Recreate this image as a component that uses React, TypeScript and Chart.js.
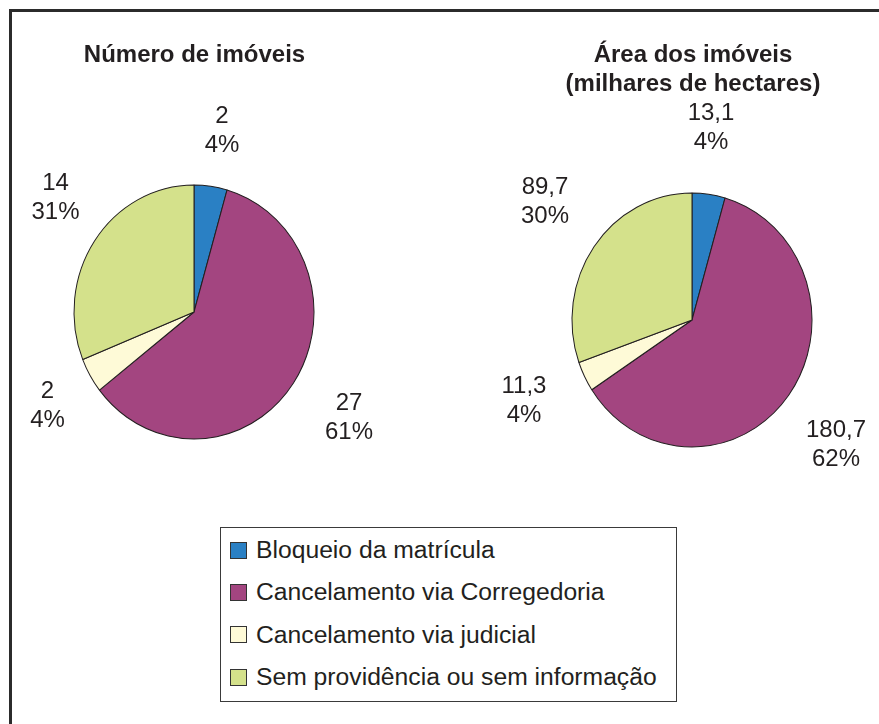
import React, { useEffect, useRef } from "react";
import { Chart, registerables } from "chart.js";

Chart.register(...registerables);

const categories = [
  "Bloqueio da matrícula",
  "Cancelamento via Corregedoria",
  "Cancelamento via judicial",
  "Sem providência ou sem informação",
];
const colors = ["#2a80c4", "#a34580", "#fefad7", "#d4e18b"];

const leftTitle = ["Número de imóveis"];
const leftValues = [2, 27, 2, 14];
const leftValueLabels = ["2", "27", "2", "14"];
const leftPctLabels = ["4%", "61%", "4%", "31%"];

const rightTitle = ["Área dos imóveis", "(milhares de hectares)"];
const rightValues = [13.1, 180.7, 11.3, 89.7];
const rightValueLabels = ["13,1", "180,7", "11,3", "89,7"];
const rightPctLabels = ["4%", "62%", "4%", "30%"];

// layout (label block centres relative to pie centre)
const leftLabelOffsets = [
  [28, -181],
  [155, 106],
  [-146.5, 94],
  [-138.5, -114],
];
const rightLabelOffsets = [
  [19, -192],
  [144, 125],
  [-168, 81],
  [-147, -118],
];

const FONT = '"Liberation Sans", Arial, Helvetica, sans-serif';
const SY = 127 / 120;

function makePlugins(
  title: string[],
  titleX: number,
  valueLabels: string[],
  pctLabels: string[],
  offsets: number[][]
) {
  return [
    {
      id: "ellipse",
      beforeDatasetsDraw(chart: any) {
        const arc = chart.getDatasetMeta(0).data[0];
        const ctx = chart.ctx;
        ctx.save();
        ctx.translate(arc.x, arc.y);
        ctx.scale(1, SY);
        ctx.translate(-arc.x, -arc.y);
      },
      afterDatasetsDraw(chart: any) {
        chart.ctx.restore();
      },
    },
    {
      id: "texts",
      afterDraw(chart: any) {
        const ctx = chart.ctx;
        const arc = chart.getDatasetMeta(0).data[0];
        ctx.save();
        ctx.fillStyle = "#231f20";
        ctx.textAlign = "center";
        ctx.textBaseline = "alphabetic";
        ctx.font = `bold 24px ${FONT}`;
        title.forEach((t, i) => ctx.fillText(t, titleX, 62 + i * 29));
        ctx.font = `24px ${FONT}`;
        ctx.textBaseline = "middle";
        valueLabels.forEach((v, i) => {
          const x = arc.x + offsets[i][0];
          const y = arc.y + offsets[i][1];
          ctx.fillText(v, x, y - 14.5);
          ctx.fillText(pctLabels[i], x, y + 14.5);
        });
        ctx.restore();
      },
    },
  ];
}

function PieCanvas(props: {
  width: number;
  height: number;
  left: number;
  values: number[];
  padding: { left: number; right: number; top: number; bottom: number };
  plugins: any[];
}) {
  const ref = useRef<HTMLCanvasElement | null>(null);
  useEffect(() => {
    if (!ref.current) return;
    const chart = new Chart(ref.current, {
      type: "pie",
      data: {
        labels: categories,
        datasets: [
          {
            data: props.values,
            backgroundColor: colors,
            borderColor: "#231f20",
            borderWidth: 1,
            radius: 120,
          } as any,
        ],
      },
      options: {
        responsive: false,
        maintainAspectRatio: false,
        animation: false,
        layout: { padding: props.padding },
        plugins: {
          legend: { display: false },
          tooltip: { enabled: false },
          title: { display: false },
        },
      },
      plugins: props.plugins,
    });
    return () => chart.destroy();
  }, []);
  return (
    <canvas
      ref={ref}
      width={props.width}
      height={props.height}
      style={{ position: "absolute", left: props.left, top: 0, width: props.width, height: props.height }}
    />
  );
}

export default function App() {
  const legendTop = 527;
  return (
    <div
      style={{
        position: "absolute",
        left: 0,
        top: 0,
        width: 879,
        height: 724,
        overflow: "hidden",
        background: "#ffffff",
        fontFamily: FONT,
      }}
    >
      <div
        style={{
          position: "absolute",
          left: 9,
          top: 9,
          width: 1000,
          height: 1000,
          borderLeft: "3px solid #2b2b2b",
          borderTop: "3px solid #2b2b2b",
        }}
      />
      <PieCanvas
        width={440}
        height={520}
        left={0}
        values={leftValues}
        padding={{ left: 64, right: 116, top: 182, bottom: 78 }}
        plugins={makePlugins(leftTitle, 194.5, leftValueLabels, leftPctLabels, leftLabelOffsets)}
      />
      <PieCanvas
        width={439}
        height={520}
        left={440}
        values={rightValues}
        padding={{ left: 122, right: 57, top: 190, bottom: 70 }}
        plugins={makePlugins(rightTitle, 253, rightValueLabels, rightPctLabels, rightLabelOffsets)}
      />
      <div
        style={{
          position: "absolute",
          left: 220,
          top: legendTop,
          width: 455,
          height: 173,
          border: "1px solid #3a3a3a",
          background: "#fff",
        }}
      >
        {categories.map((c, i) => (
          <div
            key={c}
            style={{
              position: "absolute",
              left: 9,
              top: 22 + i * 42.4 - 15,
              height: 30,
              display: "flex",
              alignItems: "center",
              whiteSpace: "nowrap",
            }}
          >
            <div
              style={{
                width: 15,
                height: 15,
                background: colors[i],
                border: "1px solid #333",
                marginRight: 9,
              }}
            />
            <span style={{ fontSize: 24.7, color: "#231f20", lineHeight: "30px" }}>{c}</span>
          </div>
        ))}
      </div>
    </div>
  );
}
